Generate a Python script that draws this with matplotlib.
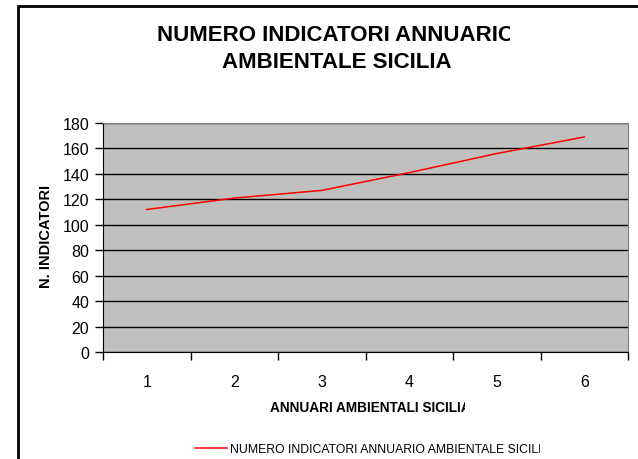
import numpy as np
import matplotlib
matplotlib.use('Agg')
import matplotlib.pyplot as plt
from matplotlib.patches import Rectangle

plt.rcParams['font.family'] = ['Liberation Sans', 'DejaVu Sans']

annuari = [1, 2, 3, 4, 5, 6]
n_indicatori = [112, 121, 127, 141, 156, 169]
y_ticks = [0, 20, 40, 60, 80, 100, 120, 140, 160, 180]

title_1 = 'NUMERO INDICATORI ANNUARIO'
title_2 = 'AMBIENTALE SICILIA'
x_label = 'ANNUARI AMBIENTALI SICILIA'
y_label = 'N. INDICATORI'
legend_label = 'NUMERO INDICATORI ANNUARIO AMBIENTALE SICILIA'

W, H = 638, 460
fig = plt.figure(figsize=(W / 100, H / 100), dpi=100)

def fx(px):
    return px / W

def fy(py):
    return 1 - py / H

def chop(x0, y0, x1, y1):
    # excel cuts off text that runs past its box; mimic with a white cover
    fig.patches.append(Rectangle((fx(x0), fy(y1)), fx(x1) - fx(x0), fy(y0) - fy(y1),
                                 transform=fig.transFigure, facecolor='white',
                                 edgecolor='none', zorder=10))

# outer chart border (runs off the right and bottom of the image)
fig.patches.append(Rectangle((fx(18), -0.1), 1.2, fy(7) + 0.1, transform=fig.transFigure,
                             fill=False, edgecolor='black', linewidth=2, zorder=11))

ax = fig.add_axes([fx(103), fy(353), fx(628) - fx(103), fy(124) - fy(353)])
ax.set_facecolor('#C0C0C0')
ax.plot(annuari, n_indicatori, color='red', linewidth=1.1, label=legend_label)

ax.set_xlim(0.5, 6.5)
ax.set_ylim(0, 180)
ax.set_yticks(y_ticks)
ax.set_xticks(annuari)
ax.set_xticks(np.arange(0.5, 7, 1), minor=True)
ax.tick_params(axis='x', which='major', length=0, pad=16, labelsize=11.5)
ax.tick_params(axis='x', which='minor', length=6, width=1, color='black', direction='out')
ax.tick_params(axis='y', length=6, width=1, direction='out', pad=4, labelsize=11.5)
ax.grid(axis='y', color='black', linewidth=1)
ax.set_axisbelow(True)
for side in ['top', 'right']:
    ax.spines[side].set_color('#808080')
for side in ['left', 'bottom']:
    ax.spines[side].set_color('black')

fig.text(fx(157), fy(40.7), title_1, ha='left', va='baseline', fontsize=16, fontweight='bold')
chop(510, 18, 600, 48)
fig.text(fx(336.5), fy(68.3), title_2, ha='center', va='baseline', fontsize=16, fontweight='bold')

fig.text(fx(270), fy(411.7), x_label, ha='left', va='baseline', fontsize=9.8, fontweight='bold')
chop(465, 398, 540, 416)
fig.text(fx(45.5), fy(236.5), y_label, ha='center', va='center', rotation=90, fontsize=10.5, fontweight='bold')

# legend drawn by hand so it can be chopped like the original
fig.lines.append(plt.Line2D([fx(195), fx(227)], [fy(449), fy(449)], transform=fig.transFigure,
                            color='red', linewidth=1.1))
fig.text(fx(230), fy(453), legend_label, ha='left', va='baseline', fontsize=8.8)
chop(540, 438, 600, 458)

plt.savefig('out.png', dpi=100)
